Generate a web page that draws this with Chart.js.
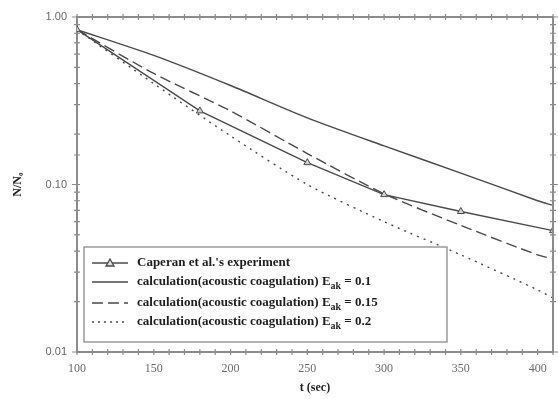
<!DOCTYPE html>
<html>
<head>
<meta charset="utf-8">
<script src="https://cdn.jsdelivr.net/npm/chart.js@4"></script>
<style>
  html, body { margin: 0; padding: 0; background: #fff; }
  #wrap { width: 558px; height: 399px; position: relative; }
</style>
</head>
<body>
<div id="wrap"><canvas id="chart"></canvas></div>
<script>
// experiment (Caperan et al.)
const expTime = [100, 180, 250, 300, 350, 410];
const expRatio = [0.84, 0.275, 0.135, 0.087, 0.069, 0.053];

// calculations, read every 50 s
const calcTime = [100, 150, 200, 250, 300, 350, 400, 410];
const calcE010 = [0.84, 0.59, 0.39, 0.25, 0.17, 0.117, 0.080, 0.075];
const calcE015 = [0.84, 0.46, 0.275, 0.153, 0.088, 0.057, 0.038, 0.036];
const calcE020 = [0.84, 0.40, 0.195, 0.10, 0.060, 0.038, 0.0235, 0.021];

const yTickLabels = { 1: "1.00", 0.1: "0.10", 0.01: "0.01" };

const lineColor = "#4a4a4a";
const axisColor = "#8c8c8c";

function pairs(xs, ys) {
  return xs.map((x, i) => ({ x: x, y: ys[i] }));
}

// tick marks crossing the frame + top/right frame lines
const framePlugin = {
  id: "frame",
  afterDraw(chart) {
    const ctx = chart.ctx;
    const a = chart.chartArea;
    const xs = chart.scales.x;
    const ys = chart.scales.y;
    ctx.save();
    ctx.strokeStyle = axisColor;
    ctx.lineWidth = 2;
    ctx.beginPath();
    ctx.moveTo(a.left, a.top);
    ctx.lineTo(a.right, a.top);
    ctx.lineTo(a.right, a.bottom);
    ctx.stroke();
    ctx.lineWidth = 1.2;
    ctx.beginPath();
    xs.ticks.forEach((t) => {
      const px = xs.getPixelForValue(t.value);
      ctx.moveTo(px, a.bottom - 3);
      ctx.lineTo(px, a.bottom + 3);
      ctx.moveTo(px, a.top - 3);
      ctx.lineTo(px, a.top + 3);
    });
    ys.ticks.forEach((t) => {
      const py = ys.getPixelForValue(t.value);
      const major = yTickLabels[t.value] !== undefined;
      const len = major ? 5 : 3;
      ctx.moveTo(a.left - len, py);
      ctx.lineTo(a.left + 3, py);
      ctx.moveTo(a.right - 3, py);
      ctx.lineTo(a.right + len, py);
    });
    ctx.stroke();
    ctx.restore();
  },
};

// legend box with subscripted E_ak
const legendPlugin = {
  id: "boxLegend",
  afterDraw(chart) {
    const ctx = chart.ctx;
    const a = chart.chartArea;
    const left = a.left + 7;
    const right = left + 363;
    const bottom = a.bottom - 10;
    const top = bottom - 95;
    ctx.save();
    ctx.fillStyle = "#fff";
    ctx.fillRect(left, top, right - left, bottom - top);
    ctx.strokeStyle = "#9a9a9a";
    ctx.lineWidth = 1.5;
    ctx.strokeRect(left, top, right - left, bottom - top);

    const rows = [
      { dash: [], marker: true, text: "Caperan et al.'s experiment" },
      { dash: [], text: "calculation(acoustic coagulation) E", sub: "ak", tail: " = 0.1" },
      { dash: [11, 5], text: "calculation(acoustic coagulation) E", sub: "ak", tail: " = 0.15" },
      { dash: [2, 4], text: "calculation(acoustic coagulation) E", sub: "ak", tail: " = 0.2" },
    ];
    const rowY = [top + 16, top + 35, top + 56, top + 75];
    rows.forEach((r, i) => {
      const y = rowY[i];
      ctx.strokeStyle = lineColor;
      ctx.lineWidth = 1.3;
      ctx.setLineDash(r.dash);
      ctx.beginPath();
      ctx.moveTo(left + 8, y);
      ctx.lineTo(left + 44, y);
      ctx.stroke();
      ctx.setLineDash([]);
      if (r.marker) {
        ctx.fillStyle = "#ddd";
        ctx.beginPath();
        ctx.moveTo(left + 26, y - 4);
        ctx.lineTo(left + 30, y + 3);
        ctx.lineTo(left + 22, y + 3);
        ctx.closePath();
        ctx.fill();
        ctx.stroke();
      }
      ctx.fillStyle = "#1e1e1e";
      ctx.textBaseline = "middle";
      ctx.font = "bold 13px 'Liberation Serif', serif";
      let x = left + 53;
      ctx.fillText(r.text, x, y);
      if (r.sub) {
        x += ctx.measureText(r.text).width;
        ctx.font = "bold 10px 'Liberation Serif', serif";
        ctx.fillText(r.sub, x, y + 4);
        x += ctx.measureText(r.sub).width;
        ctx.font = "bold 13px 'Liberation Serif', serif";
        ctx.fillText(r.tail, x, y);
      }
    });
    ctx.restore();
  },
};

const lineBase = {
  borderColor: lineColor,
  borderWidth: 1.4,
  pointRadius: 0,
  fill: false,
  tension: 0.25,
};

new Chart(document.getElementById("chart"), {
  type: "line",
  data: {
    datasets: [
      {
        ...lineBase,
        label: "Caperan et al.'s experiment",
        data: pairs(expTime, expRatio),
        tension: 0,
        pointStyle: "triangle",
        pointRadius: 4,
        pointBackgroundColor: "#d0d0d0",
        pointBorderColor: lineColor,
        pointBorderWidth: 1,
      },
      { ...lineBase, label: "E_ak = 0.1", data: pairs(calcTime, calcE010) },
      { ...lineBase, label: "E_ak = 0.15", data: pairs(calcTime, calcE015), borderDash: [11, 5] },
      { ...lineBase, label: "E_ak = 0.2", data: pairs(calcTime, calcE020), borderDash: [2, 5] },
    ],
  },
  options: {
    responsive: true,
    maintainAspectRatio: false,
    animation: false,
    layout: { padding: { top: 17, right: -3, left: 0, bottom: 0 } },
    plugins: { legend: { display: false }, tooltip: { enabled: false } },
    scales: {
      x: {
        type: "linear",
        min: 100,
        max: 410,
        grid: { display: false, drawTicks: false },
        border: { display: true, color: axisColor, width: 2 },
        ticks: {
          stepSize: 10,
          autoSkip: false,
          maxRotation: 0,
          padding: 10,
          color: "#6a6a6a",
          font: { family: "'Liberation Serif', serif", size: 12 },
          callback: (v) => (v % 50 === 0 ? String(v) : ""),
        },
        title: {
          display: true,
          text: "t (sec)",
          color: "#222",
          font: { family: "'Liberation Serif', serif", size: 12, weight: "bold" },
          padding: { top: 0, bottom: 4 },
        },
        afterFit: (s) => {
          s.height = 47;
          s.paddingLeft = 0;
          s.paddingRight = 0;
        },
      },
      y: {
        type: "logarithmic",
        min: 0.01,
        max: 1,
        grid: { display: false, drawTicks: false },
        border: { display: true, color: axisColor, width: 2 },
        ticks: {
          autoSkip: false,
          padding: 10,
          color: "#6a6a6a",
          font: { family: "'Liberation Sans', sans-serif", size: 11 },
          callback: (v) => yTickLabels[v] || "",
        },
        title: {
          display: true,
          text: "N/N\u2080",
          color: "#222",
          font: { family: "'Liberation Serif', serif", size: 12, weight: "bold" },
          padding: { top: 11, bottom: 0 },
        },
        afterFit: (s) => {
          s.width = 77;
          s.paddingTop = 0;
          s.paddingBottom = 0;
        },
      },
    },
  },
  plugins: [framePlugin, legendPlugin],
});
</script>
</body>
</html>
